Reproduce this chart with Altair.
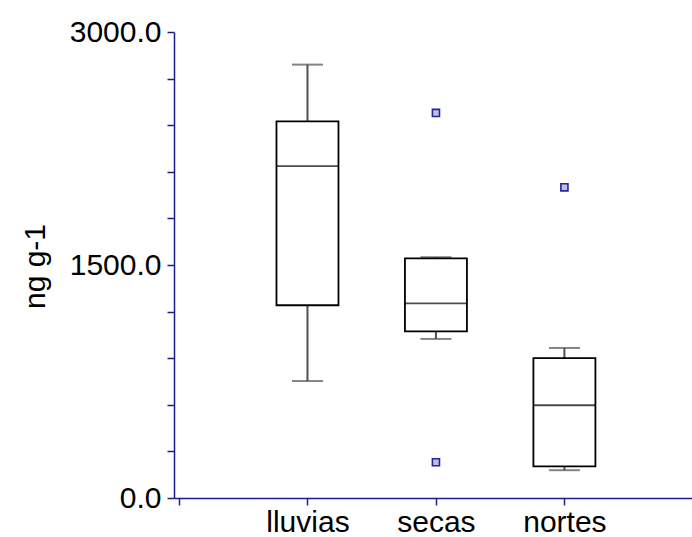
import altair as alt
import pandas as pd

# Seasonal concentrations (ng g-1): box-plot summaries per season
seasons = ["lluvias", "secas", "nortes"]
positions = [1, 2, 3]
whisker_low = [753, 1024, 179]
q1 = [1241, 1073, 204]
median = [2137, 1253, 597]
q3 = [2425, 1543, 901]
whisker_high = [2790, 1550, 966]

# Points outside the whiskers
outlier_pos = [2, 2, 3]
outlier_val = [2479, 230, 2000]

y_ticks = list(range(0, 3001, 300))

boxes = pd.DataFrame({
    "season": seasons, "pos": positions, "lo": whisker_low,
    "q1": q1, "med": median, "q3": q3, "hi": whisker_high,
})
outliers = pd.DataFrame({"pos": outlier_pos, "value": outlier_val})

FONT = "Liberation Sans"
AXIS_COLOR = "#1c1c8c"
W, H = 518, 466
STEP = 131

label_array = "['', " + ", ".join(f"'{s}'" for s in seasons) + "]"

x_enc = alt.X(
    "pos:Q",
    scale=alt.Scale(domain=[0, W / STEP], nice=False, zero=False),
    axis=alt.Axis(
        values=[0] + positions,
        labelExpr=f"{label_array}[datum.value]",
        title=None, grid=False, labelFlush=False, labelOverlap=False,
        labelPadding=2,
    ),
)
y_scale = alt.Scale(domain=[0, 3000], nice=False)
y_axis = alt.Axis(
    values=y_ticks,
    labelExpr="datum.value % 1500 == 0 ? format(datum.value, '.1f') : ''",
    title="ng g-1", grid=False, labelOverlap=False, labelFlush=False,
    labelPadding=6, titleX=-139, titleY=H / 2 + 1, titleAngle=270,
    titleAlign="center", titleBaseline="middle",
)

base = alt.Chart(boxes)

whiskers = base.mark_rule(color="#505050", strokeWidth=2).encode(
    x=x_enc,
    y=alt.Y("lo:Q", scale=y_scale, axis=y_axis),
    y2="hi:Q",
)
caps_hi = base.mark_tick(orient="horizontal", size=31, thickness=2, color="#505050").encode(
    x="pos:Q", y="hi:Q"
)
caps_lo = base.mark_tick(orient="horizontal", size=31, thickness=2, color="#505050").encode(
    x="pos:Q", y="lo:Q"
)
box = base.mark_bar(size=62, fill="white", stroke="black", strokeWidth=1.8).encode(
    x="pos:Q", y="q1:Q", y2="q3:Q"
)
med = base.mark_tick(orient="horizontal", size=62, thickness=1.8, color="black").encode(
    x="pos:Q", y="med:Q"
)
pts = alt.Chart(outliers).mark_square(
    size=50, fill="#c0c2d0", stroke="#2424a0", strokeWidth=1.6, opacity=1
).encode(x="pos:Q", y="value:Q")

chart = (
    alt.layer(whiskers, caps_hi, caps_lo, box, med, pts)
    .properties(
        width=W, height=H,
        autosize=alt.AutoSizeParams(type="none"),
        padding={"left": 174, "top": 32, "right": 0, "bottom": 39},
    )
    .configure_view(stroke=None)
    .configure_axis(
        domainColor=AXIS_COLOR, domainWidth=1.5,
        tickColor=AXIS_COLOR, tickWidth=1.5, tickSize=7,
        labelFont=FONT, labelFontSize=30, labelColor="black",
        titleFont=FONT, titleFontSize=30, titleFontWeight="normal", titleColor="black",
    )
)

chart.save("out.html", embed_options={"renderer": "svg", "actions": False})
